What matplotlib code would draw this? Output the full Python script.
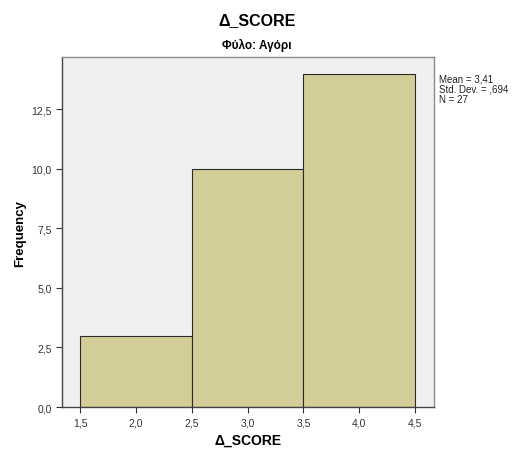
import matplotlib
matplotlib.use("Agg")
import matplotlib.pyplot as plt
from matplotlib.ticker import FuncFormatter

plt.rcParams['font.family'] = ['Liberation Sans', 'DejaVu Sans']

# histogram of Δ_SCORE, bins of width 1
bin_edges = [1.5, 2.5, 3.5, 4.5]
counts = [3, 10, 14]
x_ticks = [1.5, 2.0, 2.5, 3.0, 3.5, 4.0, 4.5]
y_ticks = [0.0, 2.5, 5.0, 7.5, 10.0, 12.5]
stats_text = "Mean = 3,41\nStd. Dev. = ,694\nN = 27"

fig = plt.figure(figsize=(5.14, 4.52), dpi=100)
ax = fig.add_axes([0.1206, 0.0973, 0.7237, 0.7743])
ax.set_facecolor('#f0f0f0')

widths = [bin_edges[i + 1] - bin_edges[i] for i in range(len(counts))]
ax.bar(bin_edges[:-1], counts, width=widths, align='edge',
       color='#d3ce98', edgecolor='#2a2a2a', linewidth=0.8)

ax.set_xlim(1.335, 4.67)
ax.set_ylim(0, 14.7)
ax.set_xticks(x_ticks)
ax.set_yticks(y_ticks)

comma = FuncFormatter(lambda v, p: ("%.1f" % v).replace('.', ','))
ax.xaxis.set_major_formatter(comma)
ax.yaxis.set_major_formatter(comma)
ax.tick_params(axis='both', labelsize=7.5, colors='#333333', length=4, width=0.8)

for s in ['top', 'right']:
    ax.spines[s].set_color('#8a8a8a')
for s in ['left', 'bottom']:
    ax.spines[s].set_color('#444444')
for s in ax.spines.values():
    s.set_linewidth(1.0)

ax.set_xlabel("Δ_SCORE", fontsize=10, fontweight='bold', labelpad=4)
ax.set_ylabel("Frequency", fontsize=9.5, fontweight='bold', labelpad=4)

fig.text(0.5, 0.955, "Δ_SCORE", ha='center', va='center', fontsize=11.5, fontweight='bold')
fig.text(0.5, 0.899, "Φύλο: Αγόρι", ha='center', va='center', fontsize=8.5, fontweight='bold')

fig.text(0.855, 0.835, stats_text, ha='left', va='top', fontsize=7, linespacing=1.0,
         color='#222222')

fig.savefig("out.png", dpi=100)
